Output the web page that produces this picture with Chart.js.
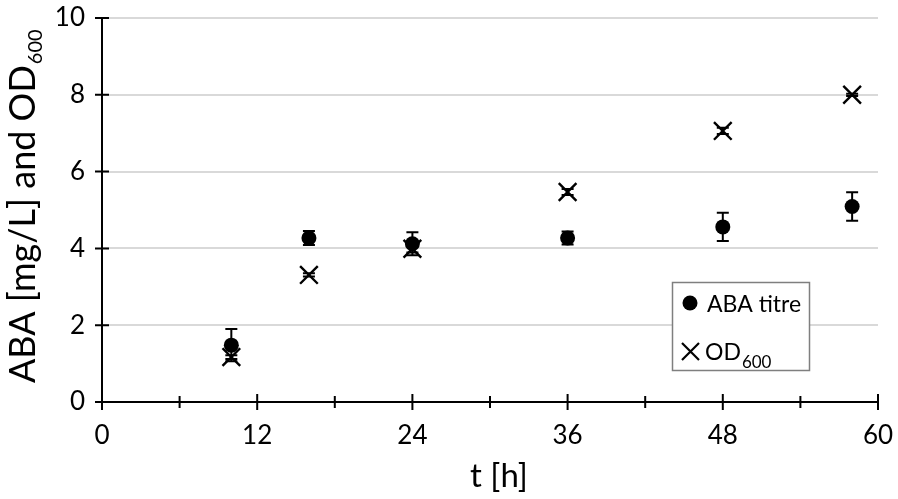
<!DOCTYPE html>
<html><head><meta charset="utf-8">
<script src="https://cdn.jsdelivr.net/npm/chart.js@4/dist/chart.umd.min.js"></script>
<style>html,body{margin:0;padding:0;background:#fff}#wrap{width:898px;height:499px;position:relative}</style>
</head><body><div id="wrap"><canvas id="c" width="898" height="499"></canvas></div>
<script>
// ---- data ----
const hours = [10, 16, 24, 36, 48, 58];
const abaTitre = [1.48, 4.27, 4.12, 4.27, 4.56, 5.09];
const abaErr = [0.42, 0.18, 0.30, 0.17, 0.37, 0.37];
const od600 = [1.17, 3.31, 3.99, 5.47, 7.06, 8.00];
const odErr = [0.05, 0.04, 0.10, 0.08, 0.08, 0.03];
const xTickValues = [0, 12, 24, 36, 48, 60];
const xMinorTickValues = [6, 18, 30, 42, 54];
const yTickValues = [0, 2, 4, 6, 8, 10];
const yTitleMain = 'ABA [mg/L] and OD';
const yTitleSub = '600';
const xTitle = 't [h]';
const legendAba = 'ABA titre';
const legendOdMain = 'OD';
const legendOdSub = '600';

const FONT = 'Lato, "Open Sans", sans-serif';

const deco = {
  id: 'deco',
  beforeDatasetsDraw(chart) {
    const ctx = chart.ctx, xs = chart.scales.x, ys = chart.scales.y;
    ctx.save();
    ctx.strokeStyle = '#000'; ctx.lineWidth = 2;
    const drawErr = (vals, errs) => {
      vals.forEach((v, i) => {
        const px = xs.getPixelForValue(hours[i]);
        const top = ys.getPixelForValue(v + errs[i]);
        const bot = ys.getPixelForValue(v - errs[i]);
        ctx.beginPath();
        ctx.moveTo(px, top); ctx.lineTo(px, bot);
        ctx.moveTo(px - 6, top); ctx.lineTo(px + 6, top);
        ctx.moveTo(px - 6, bot); ctx.lineTo(px + 6, bot);
        ctx.stroke();
      });
    };
    drawErr(abaTitre, abaErr);
    drawErr(od600, odErr);
    ctx.restore();
  },
  afterDraw(chart) {
    const ctx = chart.ctx, xs = chart.scales.x, ys = chart.scales.y, ca = chart.chartArea;
    ctx.save();
    // tick marks crossing the axes
    ctx.strokeStyle = '#000'; ctx.lineWidth = 2;
    ctx.beginPath();
    xTickValues.forEach(v => { const p = xs.getPixelForValue(v); ctx.moveTo(p, ca.bottom - 8); ctx.lineTo(p, ca.bottom + 8); });
    xMinorTickValues.forEach(v => { const p = xs.getPixelForValue(v); ctx.moveTo(p, ca.bottom - 6); ctx.lineTo(p, ca.bottom + 6); });
    yTickValues.forEach(v => { const p = ys.getPixelForValue(v); ctx.moveTo(ca.left - 7, p); ctx.lineTo(ca.left + 7, p); });
    ctx.stroke();

    ctx.fillStyle = '#000';
    ctx.textBaseline = 'alphabetic';
    ctx.textAlign = 'left';
    // y title (rotated, with subscript)
    ctx.save();
    ctx.translate(35, 383);
    ctx.rotate(-Math.PI / 2);
    ctx.font = '36px ' + FONT;
    ctx.fillText(yTitleMain, 0, 0);
    const w = ctx.measureText(yTitleMain).width;
    ctx.font = '20px ' + FONT;
    ctx.fillText(yTitleSub, w + 1, 7);
    ctx.restore();
    // x title
    ctx.font = '33px ' + FONT;
    ctx.textAlign = 'center';
    ctx.fillText(xTitle, 499, 487);
    ctx.textAlign = 'left';

    // legend
    ctx.fillStyle = '#fff';
    ctx.fillRect(672, 282, 137, 88);
    ctx.strokeStyle = '#7f7f7f'; ctx.lineWidth = 1.5;
    ctx.strokeRect(672.5, 282.5, 137, 88);
    ctx.fillStyle = '#000';
    ctx.beginPath(); ctx.arc(690, 303, 7.5, 0, Math.PI * 2); ctx.fill();
    ctx.strokeStyle = '#000'; ctx.lineWidth = 2.2;
    ctx.beginPath();
    ctx.moveTo(682, 343); ctx.lineTo(699, 360);
    ctx.moveTo(699, 343); ctx.lineTo(682, 360);
    ctx.stroke();
    ctx.font = '23px ' + FONT;
    ctx.fillText(legendAba, 707, 312);
    ctx.fillText(legendOdMain, 705, 360);
    const w2 = ctx.measureText(legendOdMain).width;
    ctx.font = '17px ' + FONT;
    ctx.fillText(legendOdSub, 705 + w2 + 1, 368);
    ctx.restore();
  }
};

new Chart(document.getElementById('c'), {
  type: 'scatter',
  data: {
    datasets: [
      {
        label: legendAba,
        data: hours.map((h, i) => ({ x: h, y: abaTitre[i] })),
        pointStyle: 'circle', pointRadius: 7.5, pointHoverRadius: 7.5,
        backgroundColor: '#000', borderColor: '#000', borderWidth: 0
      },
      {
        label: legendOdMain + legendOdSub,
        data: hours.map((h, i) => ({ x: h, y: od600[i] })),
        pointStyle: 'crossRot', pointRadius: 12.5, pointHoverRadius: 12.5,
        backgroundColor: '#000', borderColor: '#000', borderWidth: 2.4
      }
    ]
  },
  options: {
    responsive: false,
    animation: false,
    events: [],
    layout: { padding: { top: 18, right: 20, left: 0, bottom: 0 } },
    plugins: { legend: { display: false }, tooltip: { enabled: false } },
    scales: {
      x: {
        type: 'linear', min: 0, max: 60,
        afterBuildTicks: s => { s.ticks = xTickValues.map(v => ({ value: v })); },
        afterFit: s => { s.height = 97; s.paddingLeft = 0; s.paddingRight = 0; s.paddingTop = 0; s.paddingBottom = 0; },
        grid: { display: false, drawTicks: false },
        border: { display: true, color: '#000', width: 2 },
        ticks: { color: '#000', font: { family: FONT, size: 26 }, padding: 18, maxRotation: 0 }
      },
      y: {
        type: 'linear', min: 0, max: 10,
        afterBuildTicks: s => { s.ticks = yTickValues.map(v => ({ value: v })); },
        afterFit: s => { s.width = 102; s.paddingLeft = 0; s.paddingRight = 0; s.paddingTop = 0; s.paddingBottom = 0; },
        grid: { display: true, drawTicks: false, color: ctx => ctx.tick && ctx.tick.value === 0 ? 'rgba(0,0,0,0)' : '#d9d9d9', lineWidth: 2 },
        border: { display: true, color: '#000', width: 2 },
        ticks: { color: '#000', font: { family: FONT, size: 26 }, padding: 17 }
      }
    }
  },
  plugins: [deco]
});
</script>
</body></html>
